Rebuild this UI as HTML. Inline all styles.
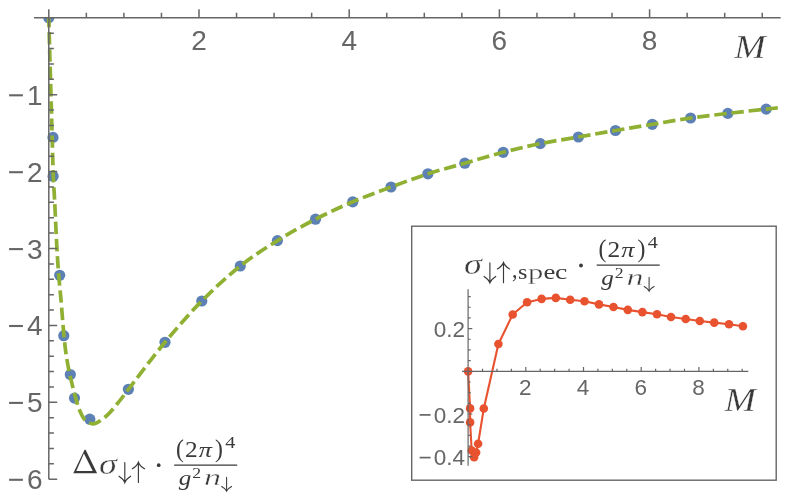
<!DOCTYPE html>
<html><head><meta charset="utf-8"><title>plot</title>
<style>
html,body{margin:0;padding:0;background:#fff;}
body{width:788px;height:499px;overflow:hidden;font-family:"Liberation Sans",sans-serif;}
.sf{font-family:"Liberation Serif",serif;}
.ss{font-family:"Liberation Sans",sans-serif;}
svg{display:block;position:absolute;left:0;top:0;}
</style></head>
<body>
<svg width="788" height="499" viewBox="0 0 788 499" style="will-change:transform">
<rect width="788" height="499" fill="#fff"/>
<clipPath id="cpm"><rect x="0" y="17.2" width="788" height="499"/></clipPath>
<g fill="#5e81b5" clip-path="url(#cpm)">
<circle cx="48.8" cy="17.8" r="5.6"/>
<circle cx="53.0" cy="137.4" r="5.6"/>
<circle cx="53.1" cy="176.3" r="5.6"/>
<circle cx="59.7" cy="275.3" r="5.6"/>
<circle cx="63.8" cy="335.7" r="5.6"/>
<circle cx="70.3" cy="374.5" r="5.6"/>
<circle cx="74.5" cy="398.1" r="5.6"/>
<circle cx="89.8" cy="419.2" r="5.6"/>
<circle cx="128.4" cy="389.3" r="5.6"/>
<circle cx="165.0" cy="342.3" r="5.6"/>
<circle cx="201.8" cy="301.0" r="5.6"/>
<circle cx="240.3" cy="266.0" r="5.6"/>
<circle cx="277.4" cy="240.6" r="5.6"/>
<circle cx="315.5" cy="219.2" r="5.6"/>
<circle cx="352.8" cy="201.8" r="5.6"/>
<circle cx="391.0" cy="187.0" r="5.6"/>
<circle cx="427.9" cy="173.8" r="5.6"/>
<circle cx="464.8" cy="163.2" r="5.6"/>
<circle cx="503.2" cy="152.3" r="5.6"/>
<circle cx="540.3" cy="143.6" r="5.6"/>
<circle cx="578.4" cy="137.0" r="5.6"/>
<circle cx="615.5" cy="130.5" r="5.6"/>
<circle cx="652.3" cy="124.3" r="5.6"/>
<circle cx="690.6" cy="118.0" r="5.6"/>
<circle cx="727.8" cy="113.4" r="5.6"/>
<circle cx="766.2" cy="109.1" r="5.6"/>
</g>
<path d="M48.80,17.80 C49.20,32.53 49.58,47.28 50.00,62.00 C50.42,76.68 50.91,92.56 51.30,106.00 C51.63,117.38 51.89,126.46 52.20,137.50 C52.55,149.74 52.83,164.86 53.30,176.20 C53.67,185.10 54.12,190.61 54.60,200.00 C55.30,213.61 56.20,236.20 57.00,250.00 C57.57,259.77 58.03,266.67 58.70,275.00 C59.37,283.34 60.20,290.91 61.00,300.00 C61.96,310.91 63.00,325.91 64.00,336.00 C64.73,343.34 65.25,348.68 66.20,355.00 C67.15,361.35 68.25,367.32 69.70,374.00 C71.34,381.56 73.83,391.40 75.70,398.00 C77.03,402.71 77.88,406.26 79.50,410.00 C81.05,413.57 82.61,417.67 85.10,420.00 C87.29,422.04 90.15,423.93 93.10,423.80 C96.95,423.64 101.94,419.63 106.10,416.20 C111.05,412.11 116.20,405.00 120.20,400.10 C123.38,396.20 124.67,394.15 128.40,389.30 C136.22,379.13 152.53,357.26 165.00,342.30 C177.02,327.88 189.04,313.88 201.80,301.00 C214.17,288.50 227.21,276.34 240.30,266.00 C252.48,256.38 264.86,248.45 277.50,240.60 C289.94,232.87 302.77,225.74 315.50,219.20 C327.87,212.84 340.20,207.17 352.80,201.80 C365.37,196.44 378.34,191.71 391.00,187.00 C403.40,182.39 415.62,177.79 428.00,173.80 C440.22,169.86 452.40,166.75 464.80,163.20 C477.46,159.58 490.47,155.60 503.20,152.30 C515.64,149.08 527.81,146.14 540.30,143.60 C552.88,141.04 565.79,139.20 578.40,137.00 C590.85,134.83 603.14,132.62 615.50,130.50 C627.84,128.39 640.08,126.37 652.50,124.30 C665.11,122.20 677.96,119.83 690.60,118.00 C703.06,116.20 715.30,114.87 727.80,113.40 C740.49,111.90 757.12,110.08 766.20,109.10 C771.19,108.56 773.93,108.30 777.80,107.90" fill="none" stroke="#8fb032" stroke-width="3.7" stroke-dasharray="12.4 4.84" stroke-dashoffset="2.87"/>
<g stroke="#666" stroke-width="1.5" fill="none">
<path d="M34,17.8 H780.6"/>
<path d="M48.8,9.2 V479.3"/>
<path d="M86.35,17.8 V12.7 M123.90,17.8 V12.7 M161.45,17.8 V12.7 M199.00,17.8 V9.2 M236.55,17.8 V12.7 M274.10,17.8 V12.7 M311.65,17.8 V12.7 M349.20,17.8 V9.2 M386.75,17.8 V12.7 M424.30,17.8 V12.7 M461.85,17.8 V12.7 M499.40,17.8 V9.2 M536.95,17.8 V12.7 M574.50,17.8 V12.7 M612.05,17.8 V12.7 M649.60,17.8 V9.2 M687.15,17.8 V12.7 M724.70,17.8 V12.7 M762.25,17.8 V12.7 "/>
<path d="M48.8,33.18 H53.9 M48.8,48.56 H53.9 M48.8,63.94 H53.9 M48.8,79.32 H53.9 M48.8,94.70 H57.2 M48.8,110.08 H53.9 M48.8,125.46 H53.9 M48.8,140.84 H53.9 M48.8,156.22 H53.9 M48.8,171.60 H57.2 M48.8,186.98 H53.9 M48.8,202.36 H53.9 M48.8,217.74 H53.9 M48.8,233.12 H53.9 M48.8,248.50 H57.2 M48.8,263.88 H53.9 M48.8,279.26 H53.9 M48.8,294.64 H53.9 M48.8,310.02 H53.9 M48.8,325.40 H57.2 M48.8,340.78 H53.9 M48.8,356.16 H53.9 M48.8,371.54 H53.9 M48.8,386.92 H53.9 M48.8,402.30 H57.2 M48.8,417.68 H53.9 M48.8,433.06 H53.9 M48.8,448.44 H53.9 M48.8,463.82 H53.9 M48.8,479.20 H57.2 "/>
</g>
<g class="ss" font-size="28" fill="#666">
<text x="199.00" y="50.4" text-anchor="middle">2</text>
<text x="349.20" y="50.4" text-anchor="middle">4</text>
<text x="499.40" y="50.4" text-anchor="middle">6</text>
<text x="649.60" y="50.4" text-anchor="middle">8</text>
<text x="42.6" y="104.70" text-anchor="end">1</text>
<path d="M9.1,95.30 H22.9" stroke="#666" stroke-width="2.1"/>
<text x="42.6" y="181.60" text-anchor="end">2</text>
<path d="M9.1,172.20 H22.9" stroke="#666" stroke-width="2.1"/>
<text x="42.6" y="258.50" text-anchor="end">3</text>
<path d="M9.1,249.10 H22.9" stroke="#666" stroke-width="2.1"/>
<text x="42.6" y="335.40" text-anchor="end">4</text>
<path d="M9.1,326.00 H22.9" stroke="#666" stroke-width="2.1"/>
<text x="42.6" y="412.30" text-anchor="end">5</text>
<path d="M9.1,402.90 H22.9" stroke="#666" stroke-width="2.1"/>
<text x="42.6" y="489.20" text-anchor="end">6</text>
<path d="M9.1,479.80 H22.9" stroke="#666" stroke-width="2.1"/>
</g>
<rect x="411.7" y="226.2" width="364.5" height="254" fill="#fff" stroke="#666" stroke-width="1.4"/>
<polyline points="468.1,371.4 470.1,408.4 470.1,422.4 471.7,450.5 474.1,457.2 476.1,452.5 478.1,443.7 483.8,408.5 498.4,344.0 512.7,314.5 527.1,302.3 541.6,298.9 555.8,297.9 570.2,299.7 584.5,301.3 599.0,304.4 613.5,307.0 627.8,309.9 642.4,312.1 657.0,314.3 671.0,317.0 685.7,319.0 699.8,321.0 714.2,322.6 729.0,324.3 742.9,326.3" fill="none" stroke="#e8522f" stroke-width="2.1" stroke-linejoin="round"/>
<g fill="#e8522f">
<circle cx="468.1" cy="371.4" r="4.3"/>
<circle cx="470.1" cy="408.4" r="4.3"/>
<circle cx="470.1" cy="422.4" r="4.3"/>
<circle cx="471.7" cy="450.5" r="4.3"/>
<circle cx="474.1" cy="457.2" r="4.3"/>
<circle cx="476.1" cy="452.5" r="4.3"/>
<circle cx="478.1" cy="443.7" r="4.3"/>
<circle cx="483.8" cy="408.5" r="4.3"/>
<circle cx="498.4" cy="344.0" r="4.3"/>
<circle cx="512.7" cy="314.5" r="4.3"/>
<circle cx="527.1" cy="302.3" r="4.3"/>
<circle cx="541.6" cy="298.9" r="4.3"/>
<circle cx="555.8" cy="297.9" r="4.3"/>
<circle cx="570.2" cy="299.7" r="4.3"/>
<circle cx="584.5" cy="301.3" r="4.3"/>
<circle cx="599.0" cy="304.4" r="4.3"/>
<circle cx="613.5" cy="307.0" r="4.3"/>
<circle cx="627.8" cy="309.9" r="4.3"/>
<circle cx="642.4" cy="312.1" r="4.3"/>
<circle cx="657.0" cy="314.3" r="4.3"/>
<circle cx="671.0" cy="317.0" r="4.3"/>
<circle cx="685.7" cy="319.0" r="4.3"/>
<circle cx="699.8" cy="321.0" r="4.3"/>
<circle cx="714.2" cy="322.6" r="4.3"/>
<circle cx="729.0" cy="324.3" r="4.3"/>
<circle cx="742.9" cy="326.3" r="4.3"/>
</g>
<g stroke="#666" stroke-width="1.2" fill="none">
<path d="M462,371.3 H748.3"/>
<path d="M468.1,289.2 V465.8"/>
<path d="M482.53,371.3 V368.70 M496.95,371.3 V368.70 M511.38,371.3 V368.70 M525.80,371.3 V367.10 M540.23,371.3 V368.70 M554.65,371.3 V368.70 M569.08,371.3 V368.70 M583.50,371.3 V367.10 M597.93,371.3 V368.70 M612.35,371.3 V368.70 M626.78,371.3 V368.70 M641.20,371.3 V367.10 M655.62,371.3 V368.70 M670.05,371.3 V368.70 M684.48,371.3 V368.70 M698.90,371.3 V367.10 M713.33,371.3 V368.70 M727.75,371.3 V368.70 M742.17,371.3 V368.70 M468.1,456.70 H472.30 M468.1,446.03 H470.70 M468.1,435.35 H470.70 M468.1,424.68 H470.70 M468.1,414.00 H472.30 M468.1,403.33 H470.70 M468.1,392.65 H470.70 M468.1,381.98 H470.70 M468.1,360.62 H470.70 M468.1,349.95 H470.70 M468.1,339.27 H470.70 M468.1,328.60 H472.30 M468.1,317.93 H470.70 M468.1,307.25 H470.70 M468.1,296.57 H470.70 "/>
</g>
<g class="ss" font-size="22.5" fill="#666">
<text x="525.30" y="395.0" text-anchor="middle">2</text>
<text x="583.00" y="395.0" text-anchor="middle">4</text>
<text x="640.70" y="395.0" text-anchor="middle">6</text>
<text x="698.40" y="395.0" text-anchor="middle">8</text>
<text x="465.0" y="336.80" text-anchor="end">0.2</text>
<text x="465.0" y="422.60" text-anchor="end">0.2</text>
<path d="M419.6,414.90 H430.6" stroke="#666" stroke-width="1.7"/>
<text x="465.0" y="465.30" text-anchor="end">0.4</text>
<path d="M419.6,457.60 H430.6" stroke="#666" stroke-width="1.7"/>
</g>
<path fill="#3a3a3a" fill-rule="evenodd" d="M73.3,473.3 L84.6,449.8 L85.6,449.8 L97.1,473.3 Z M76.3,471.0 L92.7,471.0 L83.9,453.4 Z"/>
<g transform="translate(0,0)" fill="#3a3a3a" class="sf"><text transform="matrix(0.3636 0 0 0.2855 98.92 473.72)" font-size="100" font-style="italic" stroke="#fff" stroke-width="1.2">σ</text><path d="M124.80,462.50 V482.50 M119.00,476.20 Q123.76,479.35 124.80,482.70 Q125.84,479.35 130.60,476.20" stroke="#3a3a3a" stroke-width="1.15" fill="none" stroke-linecap="round"/><path d="M138.40,462.50 V482.50 M132.30,468.80 Q137.30,465.65 138.40,462.30 Q139.50,465.65 144.50,468.80" stroke="#3a3a3a" stroke-width="1.15" fill="none" stroke-linecap="round"/></g>
<circle cx="158.7" cy="465.2" r="1.85" fill="#3a3a3a"/>
<g transform="translate(0,0)" fill="#3a3a3a" class="sf"><path d="M174.2,465.2 H237.2" stroke="#3a3a3a" stroke-width="1.25"/><text transform="matrix(0.2375 0 0 0.2492 175.96 457.49)" font-size="100">(</text><text transform="matrix(0.2544 0 0 0.2205 185.08 457.10)" font-size="100">2</text><text transform="matrix(0.2623 0 0 0.2155 198.86 457.19)" font-size="100" font-style="italic">π</text><text transform="matrix(0.2375 0 0 0.2492 215.03 457.49)" font-size="100">)</text><text transform="matrix(0.2022 0 0 0.1656 225.21 447.50)" font-size="100">4</text><text transform="matrix(0.2509 0 0 0.2180 178.79 484.86)" font-size="100" font-style="italic">g</text><text transform="matrix(0.1771 0 0 0.1510 192.22 477.90)" font-size="100">2</text><text transform="matrix(0.3405 0 0 0.2292 203.89 485.10)" font-size="100" font-style="italic" stroke="#fff" stroke-width="1.6">n</text><path d="M226.60,477.30 V490.90 M221.65,486.50 Q225.71,488.70 226.60,491.10 Q227.49,488.70 231.55,486.50" stroke="#3a3a3a" stroke-width="1.05" fill="none" stroke-linecap="round"/></g>
<text transform="translate(734.2,57.7) scale(1.125,1)" class="sf" font-style="italic" font-size="33.6" fill="#3a3a3a" stroke="#fff" stroke-width="0.35">M</text>
<g transform="translate(365.1,-199.8)" fill="#3a3a3a" class="sf"><text transform="matrix(0.3636 0 0 0.2855 98.92 473.72)" font-size="100" font-style="italic" stroke="#fff" stroke-width="1.2">σ</text><path d="M124.80,462.50 V482.50 M119.00,476.20 Q123.76,479.35 124.80,482.70 Q125.84,479.35 130.60,476.20" stroke="#3a3a3a" stroke-width="1.15" fill="none" stroke-linecap="round"/><path d="M138.40,462.50 V482.50 M132.30,468.80 Q137.30,465.65 138.40,462.30 Q139.50,465.65 144.50,468.80" stroke="#3a3a3a" stroke-width="1.15" fill="none" stroke-linecap="round"/></g>
<g fill="#3a3a3a" class="sf">
<text transform="matrix(0.2216 0 0 0.2570 512.06 278.45)" font-size="100">,</text>
<text transform="matrix(0.2404 0 0 0.2162 518.01 278.59)" font-size="100">s</text>
<text transform="matrix(0.3057 0 0 0.2163 528.01 278.59)" font-size="100" stroke="#fff" stroke-width="1.2">p</text>
<text transform="matrix(0.2675 0 0 0.2162 543.46 278.59)" font-size="100">e</text>
<text transform="matrix(0.2773 0 0 0.2162 555.04 278.59)" font-size="100">c</text>
<circle cx="581.0" cy="265.5" r="1.9"/>
</g>
<g transform="translate(422.5,-200.0)" fill="#3a3a3a" class="sf"><path d="M174.2,465.2 H237.2" stroke="#3a3a3a" stroke-width="1.25"/><text transform="matrix(0.2375 0 0 0.2492 175.96 457.49)" font-size="100">(</text><text transform="matrix(0.2544 0 0 0.2205 185.08 457.10)" font-size="100">2</text><text transform="matrix(0.2623 0 0 0.2155 198.86 457.19)" font-size="100" font-style="italic">π</text><text transform="matrix(0.2375 0 0 0.2492 215.03 457.49)" font-size="100">)</text><text transform="matrix(0.2022 0 0 0.1656 225.21 447.50)" font-size="100">4</text><text transform="matrix(0.2509 0 0 0.2180 178.79 484.86)" font-size="100" font-style="italic">g</text><text transform="matrix(0.1771 0 0 0.1510 192.22 477.90)" font-size="100">2</text><text transform="matrix(0.3405 0 0 0.2292 203.89 485.10)" font-size="100" font-style="italic" stroke="#fff" stroke-width="1.6">n</text><path d="M226.60,477.30 V490.90 M221.65,486.50 Q225.71,488.70 226.60,491.10 Q227.49,488.70 231.55,486.50" stroke="#3a3a3a" stroke-width="1.05" fill="none" stroke-linecap="round"/></g>
<text transform="translate(724.4,411.2) scale(1.125,1)" class="sf" font-style="italic" font-size="33.6" fill="#3a3a3a" stroke="#fff" stroke-width="0.35">M</text>
</svg>
</body></html>
